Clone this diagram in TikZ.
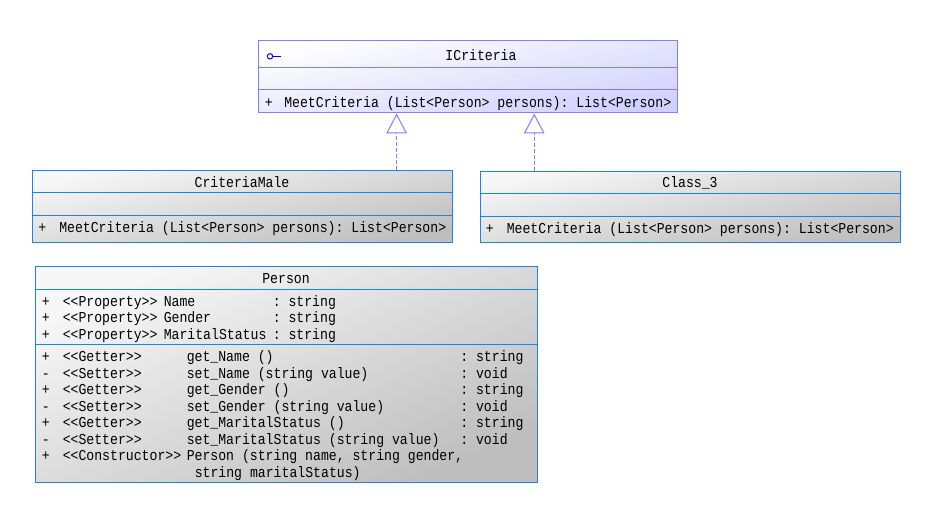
\documentclass[tikz,border=0pt]{standalone}
\usepackage{fontspec}
\setmonofont{Liberation Mono}
\usetikzlibrary{arrows.meta}
\definecolor{ifborder}{RGB}{128,128,255}
\definecolor{iffill}{RGB}{208,208,255}
\definecolor{clborder}{RGB}{30,130,230}
\definecolor{clfill}{RGB}{190,190,190}
\definecolor{lollicol}{RGB}{0,0,255}
\begin{document}
\begin{tikzpicture}[x=0.75pt,y=-0.75pt,
  ifbox/.style={draw=ifborder, line width=0.75pt, top color=white, bottom color=iffill, shading angle=12, inner sep=0pt},
  clbox/.style={draw=clborder, line width=0.75pt, top color=white!97!black, bottom color=clfill, shading angle=12, inner sep=0pt},
  ifline/.style={draw=ifborder, line width=0.75pt},
  clline/.style={draw=clborder, line width=0.75pt},
  realize/.style={draw=ifborder, line width=0.75pt, dash pattern=on 3pt off 1.5pt,
     -{Triangle[open, length=15pt, width=15.5pt, fill=white]}},
  txt/.style={anchor=base west, inner sep=0pt, yscale=1.15, transform shape, font=\ttfamily\fontsize{9.87}{12}\selectfont},
  ttl/.style={anchor=base, inner sep=0pt, yscale=1.15, transform shape, font=\ttfamily\fontsize{9.87}{12}\selectfont}]
\useasboundingbox (0,0) rectangle (942,506);
\fill[white] (0,0) rectangle (942,506);

% ICriteria
\node[ifbox, minimum width=314.6pt, minimum height=54pt] (ic) at (468.25,77) {};
\draw[ifline] (ic.west |- 0,67.5) -- (ic.east |- 0,67.5);
\draw[ifline] (ic.west |- 0,90) -- (ic.east |- 0,90);
\draw[lollicol, line width=0.75pt] (270,56.3) circle[radius=2.7];
\draw[lollicol, line width=0.75pt] (272.7,56.3) -- (281,56.3);
\node[ttl] (ictitle) at (481,60.5) {ICriteria};
\node[txt] (icsign) at (264.5,107.3) {+};
\node[txt] (icop) at (284,107.3) {MeetCriteria (List<Person> persons): List<Person>};

% CriteriaMale
\node[clbox, minimum width=315.3pt, minimum height=54pt] (cm) at (242.5,206.3) {};
\draw[clline] (cm.west |- 0,192.3) -- (cm.east |- 0,192.3);
\draw[clline] (cm.west |- 0,215.7) -- (cm.east |- 0,215.7);
\node[ttl] (cmtitle) at (242,187) {CriteriaMale};
\node[txt] (cmsign) at (38,232) {+};
\node[txt] (cmop) at (59,232) {MeetCriteria (List<Person> persons): List<Person>};

% Class_3
\node[clbox, minimum width=315.3pt, minimum height=53.55pt] (c3) at (690.5,207) {};
\draw[clline] (c3.west |- 0,194) -- (c3.east |- 0,194);
\draw[clline] (c3.west |- 0,216.7) -- (c3.east |- 0,216.7);
\node[ttl] (c3title) at (690,188) {Class\_3};
\node[txt] (c3sign) at (485.5,233.5) {+};
\node[txt] (c3op) at (506.5,233.5) {MeetCriteria (List<Person> persons): List<Person>};

% realizations
\coordinate (tip1) at (396.6,113);
\coordinate (tip2) at (534.2,113);
\draw[realize] (cm.north -| tip1) -- (ic.south -| tip1);
\draw[realize] (c3.north -| tip2) -- (ic.south -| tip2);

% Person
\node[clbox, shading angle=25, minimum width=376.5pt, minimum height=162.2pt] (pe) at (286.3,374.15) {};
\draw[clline] (pe.west |- 0,289.3) -- (pe.east |- 0,289.3);
\draw[clline] (pe.west |- 0,344) -- (pe.east |- 0,344);
\node[ttl] (petitle) at (286,283) {Person};

\node[txt] (p1s) at (41.5,306) {+};
\node[txt] (p1t) at (62.5,306) {<<Property>>};
\node[txt] (p1n) at (163.5,306) {Name};
\node[txt] (p1y) at (272.5,306) {: string};
\node[txt] (p2s) at (41.5,322.5) {+};
\node[txt] (p2t) at (62.5,322.5) {<<Property>>};
\node[txt] (p2n) at (163.5,322.5) {Gender};
\node[txt] (p2y) at (272.5,322.5) {: string};
\node[txt] (p3s) at (41.5,339) {+};
\node[txt] (p3t) at (62.5,339) {<<Property>>};
\node[txt] (p3n) at (163.5,339) {MaritalStatus};
\node[txt] (p3y) at (272.5,339) {: string};

\node[txt] (m1s) at (41.5,361.5) {+};
\node[txt] (m1t) at (62.5,361.5) {<<Getter>>};
\node[txt] (m1n) at (186.5,361.5) {get\_Name ()};
\node[txt] (m1y) at (460,361.5) {: string};
\node[txt] (m2s) at (41.5,378) {-};
\node[txt] (m2t) at (62.5,378) {<<Setter>>};
\node[txt] (m2n) at (186.5,378) {set\_Name (string value)};
\node[txt] (m2y) at (460,378) {: void};
\node[txt] (m3s) at (41.5,394.5) {+};
\node[txt] (m3t) at (62.5,394.5) {<<Getter>>};
\node[txt] (m3n) at (186.5,394.5) {get\_Gender ()};
\node[txt] (m3y) at (460,394.5) {: string};
\node[txt] (m4s) at (41.5,411) {-};
\node[txt] (m4t) at (62.5,411) {<<Setter>>};
\node[txt] (m4n) at (186.5,411) {set\_Gender (string value)};
\node[txt] (m4y) at (460,411) {: void};
\node[txt] (m5s) at (41.5,427.5) {+};
\node[txt] (m5t) at (62.5,427.5) {<<Getter>>};
\node[txt] (m5n) at (186.5,427.5) {get\_MaritalStatus ()};
\node[txt] (m5y) at (460,427.5) {: string};
\node[txt] (m6s) at (41.5,444) {-};
\node[txt] (m6t) at (62.5,444) {<<Setter>>};
\node[txt] (m6n) at (186.5,444) {set\_MaritalStatus (string value)};
\node[txt] (m6y) at (460,444) {: void};
\node[txt] (m7s) at (41.5,460.5) {+};
\node[txt] (m7t) at (62.5,460.5) {<<Constructor>>};
\node[txt] (m7n) at (186.5,460.5) {Person (string name, string gender,};
\node[txt] (m7c) at (194.5,477) {string maritalStatus)};
\end{tikzpicture}
\end{document}
